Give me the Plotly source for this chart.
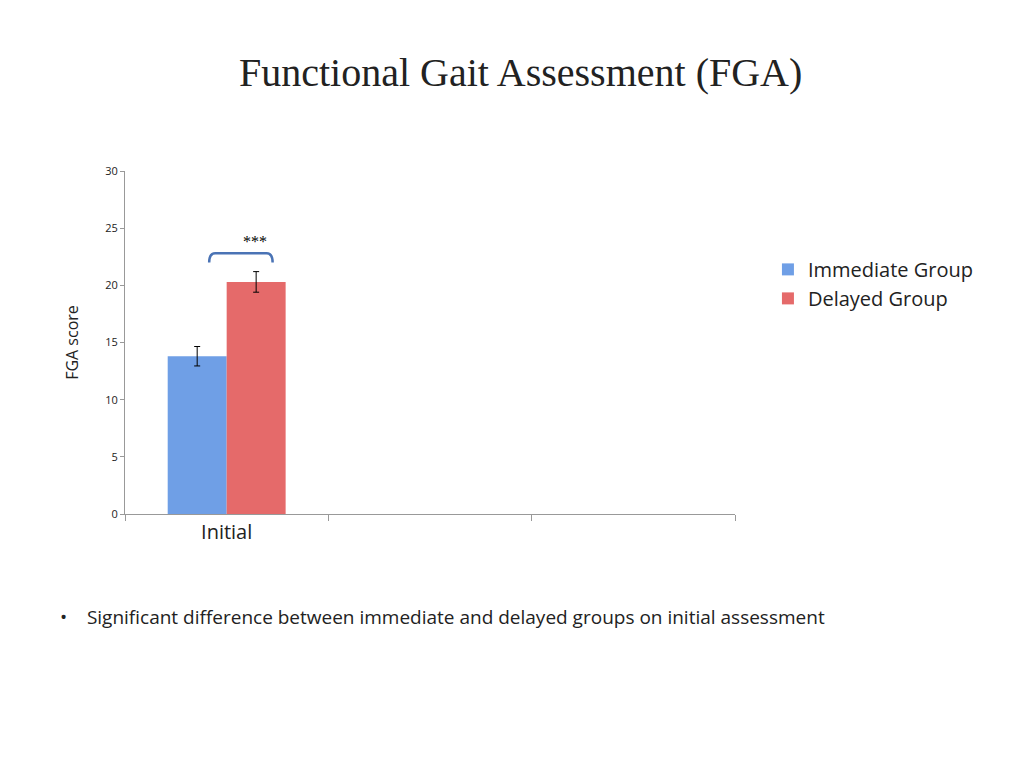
import plotly.graph_objects as go

categories = ["Initial", " ", "  "]
immediate = [13.8, None, None]
immediate_err = [0.85, 0, 0]
delayed = [20.3, None, None]
delayed_err = [0.9, 0, 0]

fig = go.Figure()
fig.add_bar(x=categories, y=immediate, name="Immediate Group",
            marker=dict(color="#6f9fe6", line=dict(width=0)),
            error_y=dict(type="data", array=immediate_err, color="black", thickness=1, width=3))
fig.add_bar(x=categories, y=delayed, name="Delayed Group",
            marker=dict(color="#e56a6a", line=dict(width=0)),
            error_y=dict(type="data", array=delayed_err, color="black", thickness=1, width=3))

# significance bracket over the Initial pair
fig.add_shape(type="path", xref="paper", yref="y",
              path="M 0.138,22.0 Q 0.138,22.8 0.148,22.8 L 0.232,22.8 Q 0.242,22.8 0.242,22.0",
              line=dict(color="#4a73b5", width=2.5))
fig.add_annotation(x=0.19, y=22.9, xref="paper", yref="y", text="***", showarrow=False,
                   font=dict(family="Liberation Serif", size=16, color="black"), yanchor="bottom")

fig.add_annotation(x=0.648, y=1.286, xref="paper", yref="paper", xanchor="center", yanchor="middle",
                   text="Functional Gait Assessment (FGA)", showarrow=False,
                   font=dict(family="Liberation Serif", size=40, color="#222"))
fig.add_annotation(x=-0.11, y=-0.30, xref="paper", yref="paper", xanchor="left", yanchor="middle",
                   text="•    Significant difference between immediate and delayed groups on initial assessment",
                   showarrow=False, font=dict(family="Open Sans", size=19, color="#222"))

fig.update_layout(
    width=1024, height=768, template="none",
    paper_bgcolor="white", plot_bgcolor="white",
    margin=dict(l=117, r=297, t=163, b=262, autoexpand=False),
    barmode="group", bargap=0.42, bargroupgap=0,
    font=dict(family="Open Sans", color="#222"),
    legend=dict(x=1.054, y=0.77, xanchor="left", yanchor="top",
                font=dict(size=20), itemwidth=30, tracegroupgap=14),
    xaxis=dict(showline=True, linecolor="#999", ticks="outside", tickcolor="#999",
               tickson="boundaries", ticklen=6, showgrid=False, automargin=False,
               tickfont=dict(size=20), fixedrange=True),
    yaxis=dict(range=[0, 30], dtick=5, showline=True, linecolor="#999", automargin=False,
               ticks="outside", tickcolor="#999", ticklen=4, showgrid=False,
               zeroline=False, tickfont=dict(size=11),
               title=dict(text="FGA score", font=dict(size=16), standoff=22)),
)
fig.write_html("out.html")
